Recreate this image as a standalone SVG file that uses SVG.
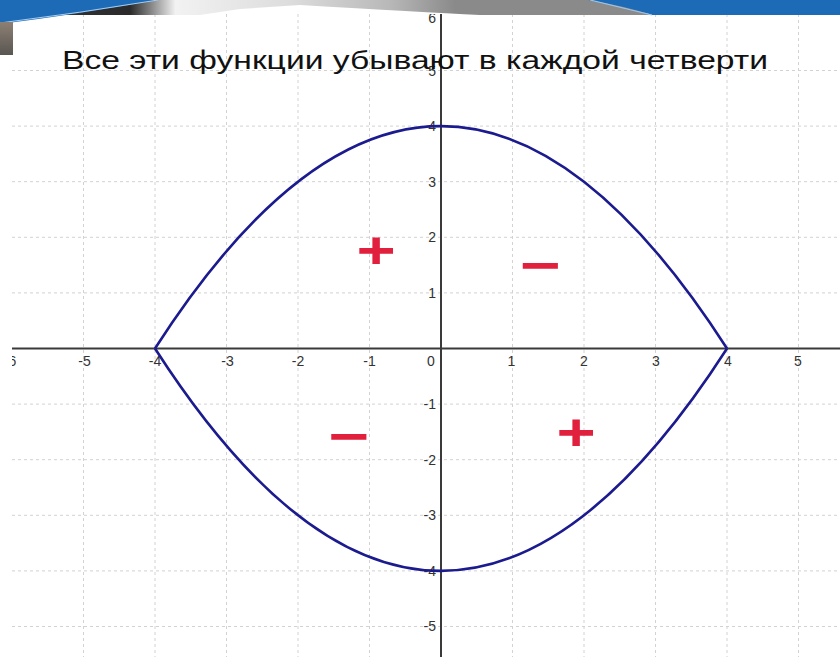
<svg xmlns="http://www.w3.org/2000/svg" width="840" height="657" viewBox="0 0 840 657">
<style>
.grid{stroke:#d2d2d2;stroke-width:1;stroke-dasharray:3 3;fill:none}
.axis{stroke:#3a3a3a;stroke-width:2;fill:none}
.lbl{font-family:"Liberation Sans",Arial,sans-serif;font-size:14px;fill:#333}
.xl{text-anchor:middle}
.yl{text-anchor:end}
.curve{stroke:#1b1b8f;stroke-width:2.6;fill:none}
.mark{font-family:"Liberation Sans",Arial,sans-serif;font-weight:bold;fill:#e0203c;text-anchor:middle}
</style>
<defs>
<linearGradient id="band" x1="0" y1="0" x2="1" y2="0">
<stop offset="0" stop-color="#3a3a3a"/>
<stop offset="0.2" stop-color="#2a2a2a"/>
<stop offset="0.27" stop-color="#f2f2f2"/>
<stop offset="0.45" stop-color="#dcdcdc"/>
<stop offset="0.6" stop-color="#b8b8b8"/>
<stop offset="0.7" stop-color="#8a8a8a"/>
</linearGradient>
<linearGradient id="side" x1="0" y1="0" x2="0" y2="1">
<stop offset="0" stop-color="#8c8074"/>
<stop offset="1" stop-color="#5a5652"/>
</linearGradient>
<clipPath id="plot"><rect x="12" y="14" width="828" height="643"/></clipPath>
</defs>
<rect width="840" height="657" fill="#ffffff"/>
<g id="plot-area" clip-path="url(#plot)">
<g id="grid">
<path class="grid" d="M83.5 14V657M155 14V657M226.5 14V657M298 14V657M369.5 14V657M512.5 14V657M584 14V657M655.5 14V657M727 14V657M798.5 14V657"/>
<path class="grid" d="M12 70.5H840M12 126.1H840M12 181.7H840M12 237.3H840M12 292.9H840M12 404.1H840M12 459.7H840M12 515.3H840M12 570.9H840M12 626.5H840"/>
</g>
<g id="axes">
<path class="axis" d="M12 348.5H840"/>
<path class="axis" d="M441 14V657"/>
</g>
<g id="labels">
<text class="lbl xl" x="10" y="366">-6</text>
<text class="lbl xl" x="84.5" y="366">-5</text>
<text class="lbl xl" x="155" y="366">-4</text>
<text class="lbl xl" x="227.5" y="366">-3</text>
<text class="lbl xl" x="298" y="366">-2</text>
<text class="lbl xl" x="369.5" y="366">-1</text>
<text class="lbl xl" x="431" y="366">0</text>
<text class="lbl xl" x="511.5" y="366">1</text>
<text class="lbl xl" x="584" y="366">2</text>
<text class="lbl xl" x="656" y="366">3</text>
<text class="lbl xl" x="728" y="366">4</text>
<text class="lbl xl" x="798" y="366">5</text>
<text class="lbl yl" x="436" y="23">6</text>
<text class="lbl yl" x="436" y="75.5">5</text>
<text class="lbl yl" x="436" y="131">4</text>
<text class="lbl yl" x="436" y="186.5">3</text>
<text class="lbl yl" x="436" y="242">2</text>
<text class="lbl yl" x="436" y="297.5">1</text>
<text class="lbl yl" x="436" y="409">-1</text>
<text class="lbl yl" x="436" y="464.5">-2</text>
<text class="lbl yl" x="436" y="520">-3</text>
<text class="lbl yl" x="436" y="575.5">-4</text>
<text class="lbl yl" x="436" y="631">-5</text>
</g>
<g id="curves">
<path class="curve" d="M155 348.5Q441 -96.3 727 348.5"/>
<path class="curve" d="M155 348.5Q441 793.3 727 348.5"/>
</g>
</g>
<g id="signs">
<g id="sign-q2" transform="translate(376 249.5) scale(1.05 0.8)"><text class="mark" x="0" y="22.8" font-size="64">+</text></g>
<g id="sign-q1" transform="translate(540.5 266) scale(1 0.75)"><text class="mark" x="0" y="22" font-size="70">−</text></g>
<g id="sign-q3" transform="translate(349 437) scale(1 0.75)"><text class="mark" x="0" y="22" font-size="70">−</text></g>
<g id="sign-q4" transform="translate(576 432) scale(1.05 0.8)"><text class="mark" x="0" y="22.8" font-size="64">+</text></g>
</g>
<g id="banner">
<path d="M0 0H620L650 15H480Q420 12 300 5L240 9L200 15H0Z" fill="url(#band)"/>
<path d="M588 0H840V15H652Q625 6 588 0Z" fill="#1d6bb6"/>
<path d="M590 0L652 15" stroke="#9cc4e8" stroke-width="1.2"/>
<path d="M0 0H158Q80 14 0 24Z" fill="#1d6bb6"/>
<path d="M0 23Q80 13 158 0" stroke="#a9cdee" stroke-width="1" fill="none"/>
<rect x="0" y="22" width="13" height="33" fill="url(#side)"/>
</g>
<g id="title">
<text x="62" y="69" font-family="Liberation Sans,Arial,sans-serif" font-size="26" fill="#111" textLength="706" lengthAdjust="spacingAndGlyphs">Все эти функции убывают в каждой четверти</text>
</g>
</svg>
